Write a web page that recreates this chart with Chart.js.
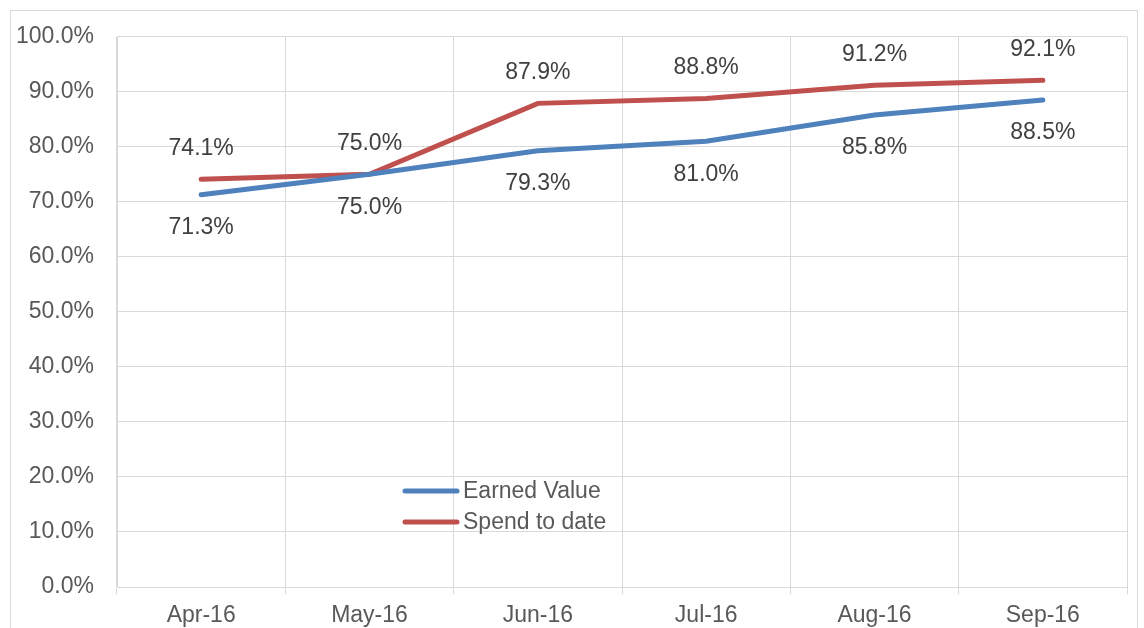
<!DOCTYPE html>
<html>
<head>
<meta charset="utf-8">
<script src="https://cdn.jsdelivr.net/npm/chart.js@4.4.0/dist/chart.umd.min.js"></script>
<style>
  html, body { margin: 0; padding: 0; background: #fff; }
  #wrap { width: 1144px; height: 628px; position: relative; }
</style>
</head>
<body>
<div id="wrap"><canvas id="chart" width="1144" height="628"></canvas></div>
<script>
// chart data
const months = ['Apr-16', 'May-16', 'Jun-16', 'Jul-16', 'Aug-16', 'Sep-16'];
const earnedValue = [71.3, 75.0, 79.3, 81.0, 85.8, 88.5];
const spendToDate = [74.1, 75.0, 87.9, 88.8, 91.2, 92.1];
const yTicks = [0, 10, 20, 30, 40, 50, 60, 70, 80, 90, 100];

const FONT = '"Liberation Sans", Arial, sans-serif';
const BLUE = '#4F81BD';
const RED = '#C0504D';
const GRID = '#d9d9d9';

// outer frame, data labels and the in-plot legend
const decorations = {
  id: 'decorations',
  beforeDraw(chart) {
    const ctx = chart.ctx;
    ctx.save();
    ctx.fillStyle = '#fff';
    ctx.fillRect(0, 0, chart.width, chart.height);
    ctx.strokeStyle = GRID;
    ctx.lineWidth = 1;
    ctx.strokeRect(10.5, 10.5, 1127, 640);
    ctx.restore();
  },
  afterDatasetsDraw(chart) {
    const ctx = chart.ctx;
    ctx.save();
    ctx.font = '23px ' + FONT;
    ctx.fillStyle = '#404040';
    ctx.textAlign = 'center';
    ctx.textBaseline = 'middle';
    chart.data.datasets.forEach((ds, i) => {
      const meta = chart.getDatasetMeta(i);
      meta.data.forEach((pt, j) => {
        const dy = ds.labelPos === 'above' ? -31 : 33;
        ctx.fillText(ds.data[j].toFixed(1) + '%', pt.x, pt.y + dy);
      });
    });

    // legend
    ctx.textAlign = 'left';
    ctx.fillStyle = '#595959';
    ctx.lineCap = 'round';
    ctx.lineWidth = 5;
    chart.data.datasets.forEach((ds, i) => {
      const y = 491 + i * 31;
      ctx.strokeStyle = ds.borderColor;
      ctx.beginPath();
      ctx.moveTo(405, y);
      ctx.lineTo(457, y);
      ctx.stroke();
      ctx.fillText(ds.label, 463, y + 1);
    });
    ctx.restore();
  }
};

new Chart(document.getElementById('chart'), {
  type: 'line',
  data: {
    labels: months,
    datasets: [
      {
        label: 'Earned Value',
        data: earnedValue,
        borderColor: BLUE,
        borderWidth: 5,
        borderCapStyle: 'round',
        pointRadius: 0,
        tension: 0,
        labelPos: 'below'
      },
      {
        label: 'Spend to date',
        data: spendToDate,
        borderColor: RED,
        borderWidth: 5,
        borderCapStyle: 'round',
        pointRadius: 0,
        tension: 0,
        labelPos: 'above'
      }
    ]
  },
  options: {
    responsive: false,
    animation: false,
    layout: { padding: { top: 34, left: 0, right: 17, bottom: 0 } },
    plugins: {
      legend: { display: false },
      tooltip: { enabled: false }
    },
    scales: {
      x: {
        offset: true,
        grid: { offset: true, color: GRID, lineWidth: 1, tickLength: 7, drawTicks: true },
        border: { color: GRID },
        ticks: { color: '#595959', font: { family: FONT, size: 23 }, padding: 8, maxRotation: 0 },
        afterFit(scale) { scale.height = 41; }
      },
      y: {
        min: 0,
        max: 100,
        afterBuildTicks(scale) { scale.ticks = yTicks.map(v => ({ value: v })); },
        grid: { color: GRID, lineWidth: 1, drawTicks: false },
        border: { color: GRID },
        ticks: {
          color: '#595959',
          font: { family: FONT, size: 23 },
          padding: 23,
          callback: v => v.toFixed(1) + '%'
        },
        afterFit(scale) { scale.width = 117; }
      }
    }
  },
  plugins: [decorations]
});
</script>
</body>
</html>
